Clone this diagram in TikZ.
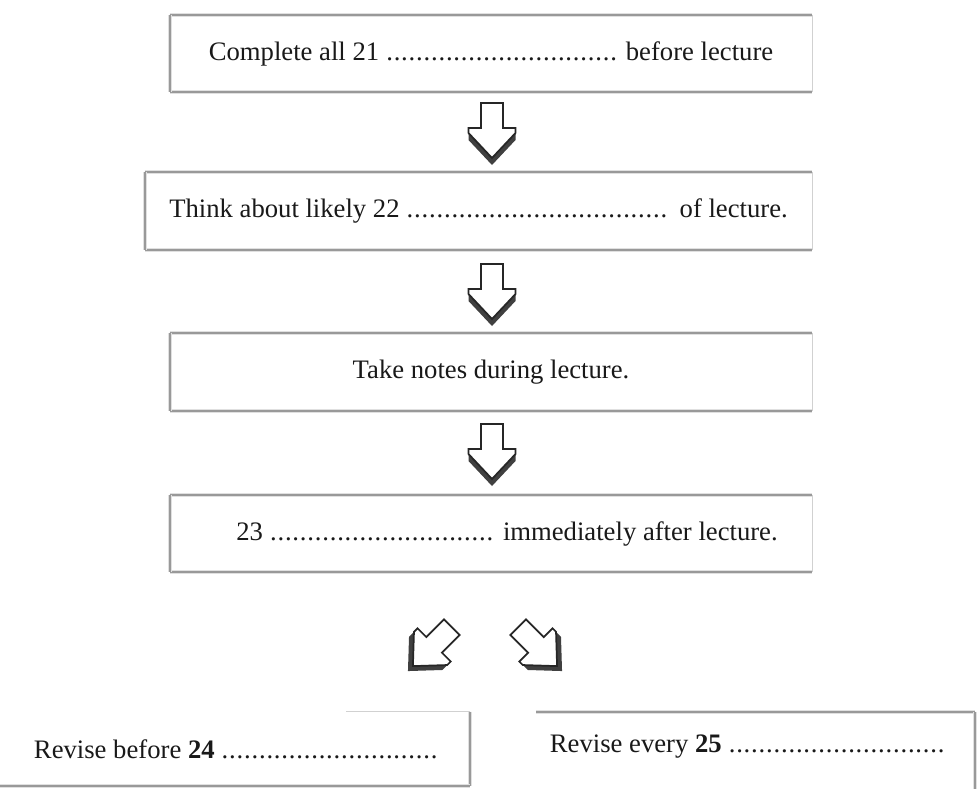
\documentclass[tikz,border=0pt]{standalone}
\usepackage{fontspec}
\setmainfont{Liberation Serif}
\usetikzlibrary{fit}
\newcommand\blankline[1]{\hbox to #1{\leaders\hbox to 5.6pt{\hss.\hss}\hfill}}
\tikzset{
  edgedark/.style={draw=black!40, line width=1.6pt, preaction={draw=black!12, line width=3.2pt}},
  edgelight/.style={draw=black!18, line width=1.0pt},
  txt/.style={font=\fontsize{20}{24}\selectfont, text=black!90, inner sep=0pt},
  boxarea/.style={inner sep=0pt},
  pics/blockarrow/.style={code={
    \fill[black!75] (-23.5,2) -- (-23.5,9) -- (0,34) -- (23.5,9) -- (23.5,2) -- (0,27) -- cycle;
    \filldraw[fill=white, draw=black!85, line width=1.3pt, line join=miter]
      (-11,-28) -- (11,-28) -- (11,-3) -- (23.5,-3) -- (23.5,2) -- (0,27)
      -- (-23.5,2) -- (-23.5,-3) -- (-11,-3) -- cycle;
  }}
}
\begin{document}
\begin{tikzpicture}[x=0.75pt,y=-0.75pt]
\fill[white] (0,0) rectangle (980,789);
\useasboundingbox (0,0) rectangle (980,789);

% boxes
\node[boxarea, fit={(170,15) (812,92)}] (b1) {};
\node[boxarea, fit={(145,172) (812,250)}] (b2) {};
\node[boxarea, fit={(170,333) (812,411)}] (b3) {};
\node[boxarea, fit={(170,495) (812,572)}] (b4) {};
\node[boxarea, fit={(0,712) (470,786)}] (b5) {};
\node[boxarea, fit={(470,712) (975,789)}] (b6) {};

% box edges (scanned shadow look)
\foreach \b in {b1,b2,b3,b4}{
  \draw[edgedark] (\b.north west) -- (\b.north east);
  \draw[edgedark] (\b.south west) -- (\b.south east);
  \draw[edgedark] (\b.north west) -- (\b.south west);
  \draw[edgelight] (\b.north east) -- (\b.south east);
}
\draw[edgelight] ([xshift=260]b5.north west) -- (b5.north east);
\draw[edgedark] (b5.north east) -- (b5.south east);
\draw[edgedark] (b5.south west) -- (b5.south east);
\draw[edgedark] ([xshift=50]b6.north west) -- (b6.north east);
\draw[edgedark] (b6.north east) -- (b6.south east);

% texts
\node[txt] (t1) at (b1.center) {Complete all 21 \blankline{175pt} before lecture};
\node[txt] (t2) at (b2.center) {Think about likely 22 \blankline{200pt} of lecture.};
\node[txt] (t3) at (b3.center) {Take notes during lecture.};
\node[txt] (t4) at ([xshift=12]b4.center) {23 \blankline{170pt} immediately after lecture.};
\node[txt] (t5) at ([xshift=2]b5.center) {Revise before \textbf{24} \blankline{165pt}};
\node[txt] (t6) at ([xshift=20,yshift=3]b6.center) {Revise every \textbf{25} \blankline{165pt}};

% block arrows
\coordinate (a1) at (492,131);
\coordinate (a2) at (492,292);
\coordinate (a3) at (492,452);
\coordinate (a4) at (432,647);
\coordinate (a5) at (538,647);
\pic at (a1) {blockarrow};
\pic at (a2) {blockarrow};
\pic at (a3) {blockarrow};
\pic[rotate=-45] at (a4) {blockarrow};
\pic[rotate=45] at (a5) {blockarrow};
\end{tikzpicture}
\end{document}
